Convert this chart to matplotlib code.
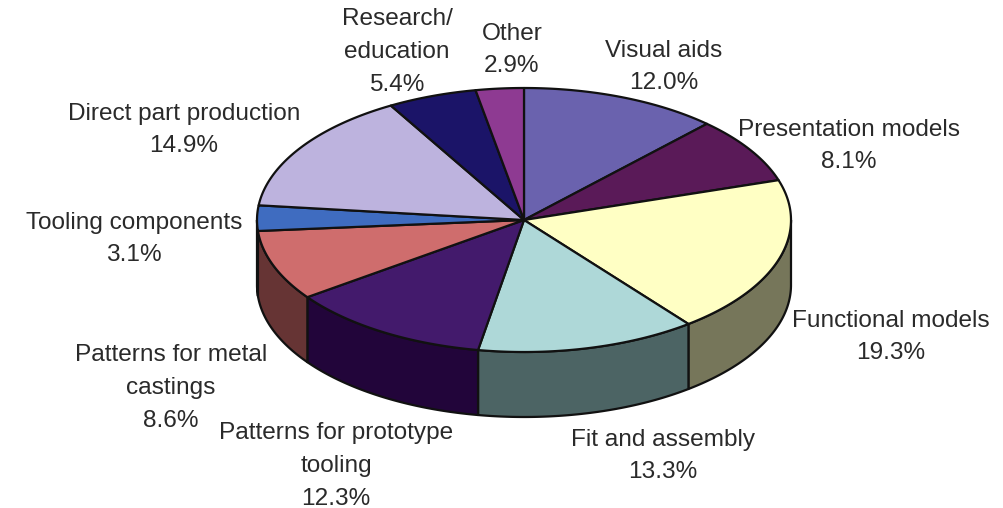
import numpy as np
import matplotlib
matplotlib.use('Agg')
import matplotlib.pyplot as plt

plt.rcParams['font.family'] = ['Liberation Sans', 'DejaVu Sans']

labels = ['Visual aids', 'Presentation models', 'Functional models', 'Fit and assembly',
          'Patterns for prototype\ntooling', 'Patterns for metal\ncastings',
          'Tooling components', 'Direct part production', 'Research/\neducation', 'Other']
values = [12.0, 8.1, 19.3, 13.3, 12.3, 8.6, 3.1, 14.9, 5.4, 2.9]
top_colors = ['#6a62ae', '#5a1a58', '#ffffc4', '#aed8d8', '#431a6c', '#cf6d6d',
              '#3f6cc0', '#bdb3de', '#1b1468', '#8e3a92']
side_colors = ['#35315a', '#2d0d2c', '#76765a', '#4c6464', '#22053a', '#663434',
               '#203660', '#5e5a70', '#0e0a34', '#471d49']
label_x = [664, 849, 891, 663, 336, 171, 134, 184, 397, 512]
label_y = [67, 146, 337, 456, 466, 388, 239, 130, 52, 50]

cx, cy = 524, 220
rx, ry = 267, 132
depth = 65

fig = plt.figure(figsize=(10.04, 5.08), dpi=100)
ax = fig.add_axes([0, 0, 1, 1])
ax.set_xlim(0, 1004)
ax.set_ylim(508, 0)
ax.axis('off')

edges = np.concatenate([[0], np.cumsum(values)]) / sum(values) * 2 * np.pi


def rim(a0, a1):
    # angle runs clockwise from twelve o'clock
    t = np.linspace(a0, a1, 80)
    return cx + rx * np.sin(t), cy - ry * np.cos(t)


# side wall, only the front half of the ellipse is visible
for i in range(len(values)):
    a0 = max(edges[i], np.pi / 2)
    a1 = min(edges[i + 1], 3 * np.pi / 2)
    if a1 <= a0:
        continue
    x, y = rim(a0, a1)
    ax.fill(np.r_[x, x[::-1]], np.r_[y, y[::-1] + depth],
            fc=side_colors[i], ec='#111111', lw=1.6, joinstyle='round', zorder=2)

# top face
for i in range(len(values)):
    x, y = rim(edges[i], edges[i + 1])
    ax.fill(np.r_[cx, x], np.r_[cy, y], fc=top_colors[i], ec='#111111', lw=1.6,
            joinstyle='round', zorder=3)

for name, val, lx, ly in zip(labels, values, label_x, label_y):
    ax.text(lx, ly, f'{name}\n{val:.1f}%', ha='center', va='center', fontsize=17.6,
            color='#2a2a2a', linespacing=1.62)

fig.savefig('out.png', dpi=100)
